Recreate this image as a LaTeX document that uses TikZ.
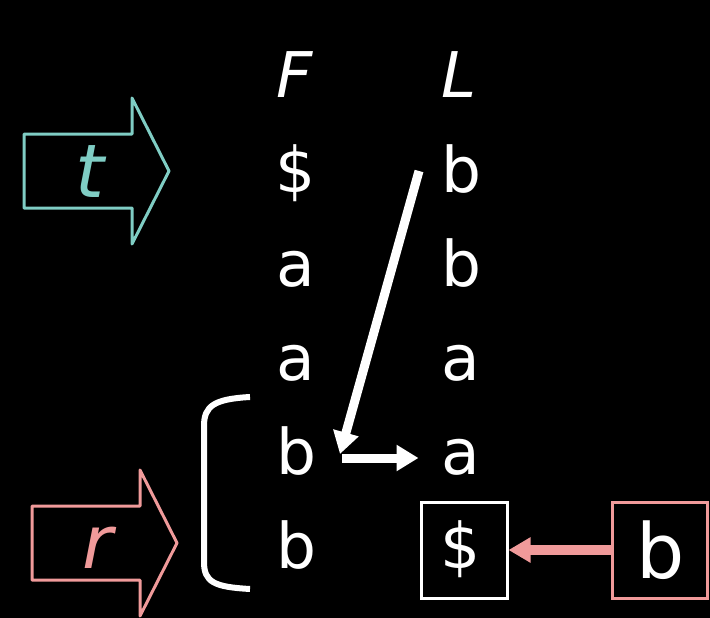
\documentclass[tikz,border=0pt]{standalone}
\usepackage{fontspec}
\setmainfont{DejaVu Sans}
\usetikzlibrary{arrows.meta}
\definecolor{tealish}{RGB}{127,205,196}
\definecolor{pinkish}{RGB}{240,154,154}
% block arrow, shifted to (#1,#2), in colour #3
\newcommand{\blockarrow}[3]{\draw[#3, line width=3pt, line join=round, shift={(#1,#2)}]
    (0,0) -- (108,0) -- (108,-36) -- (145,37) -- (108,110) -- (108,74) -- (0,74) -- cycle;}

\begin{document}
\begin{tikzpicture}[x=1pt, y=-1pt,
    letter/.style={text=white, inner sep=0pt, anchor=base, font=\fontsize{63}{63}\selectfont},
    label/.style={inner sep=0pt, anchor=base, font=\fontsize{74}{74}\selectfont\itshape},
    fatwhite/.style={white, line width=9pt, -{Triangle[length=22pt, width=25pt]}}]
    \fill[black] (0,0) rectangle (710,618);
    \useasboundingbox (0,0) rectangle (710,618);
    % column heads
    \node[letter, font=\fontsize{63}{63}\selectfont\itshape] (hF) at (295,98) {F};
    \node[letter, font=\fontsize{63}{63}\selectfont\itshape] (hL) at (459,98) {L};
    \foreach \f/\l [count=\i] in {\$/b, a/b, a/a, b/a, b/\$} {
        \node[letter] (f\i) at (296,98+94*\i) {\f};
        \node[letter] (l\i) at (461,98+94*\i) {\l};
    }
    % the two block arrows
    \blockarrow{24}{134}{tealish}
    \node[label, text=tealish] (tlab) at (90,197) {t};
    \blockarrow{32}{506}{pinkish}
    \node[label, text=pinkish] (rlab) at (98,568) {r};
    % bracket round the last two rows
    \draw[white, line width=6pt] (250,397) .. controls (214,399) and (204,406) .. (204,426)
        -- (204,562) .. controls (204,582) and (214,587) .. (250,589);
    % boxes
    \node[draw=white, line width=3pt, minimum width=86pt, minimum height=96pt] (dbox) at (464,550) {};
    \node[draw=pinkish, line width=3pt, minimum width=95pt, minimum height=96pt] (bbox) at (660,550) {};
    \node[letter, font=\fontsize{76}{76}\selectfont] (bchar) at (661,578) {b};
    \coordinate (top) at (419,171);
    \coordinate (turn) at (340,454);
    \coordinate (turnout) at (342,458);
    \draw[fatwhite] (top) -- (turn);
    \draw[fatwhite, shorten >=23pt] (turnout) -- (turnout -| l4.west);
    \draw[pinkish, line width=10pt, -{Triangle[length=22pt, width=24pt]}] (bbox.west) -- (dbox.east);
\end{tikzpicture}
\end{document}
